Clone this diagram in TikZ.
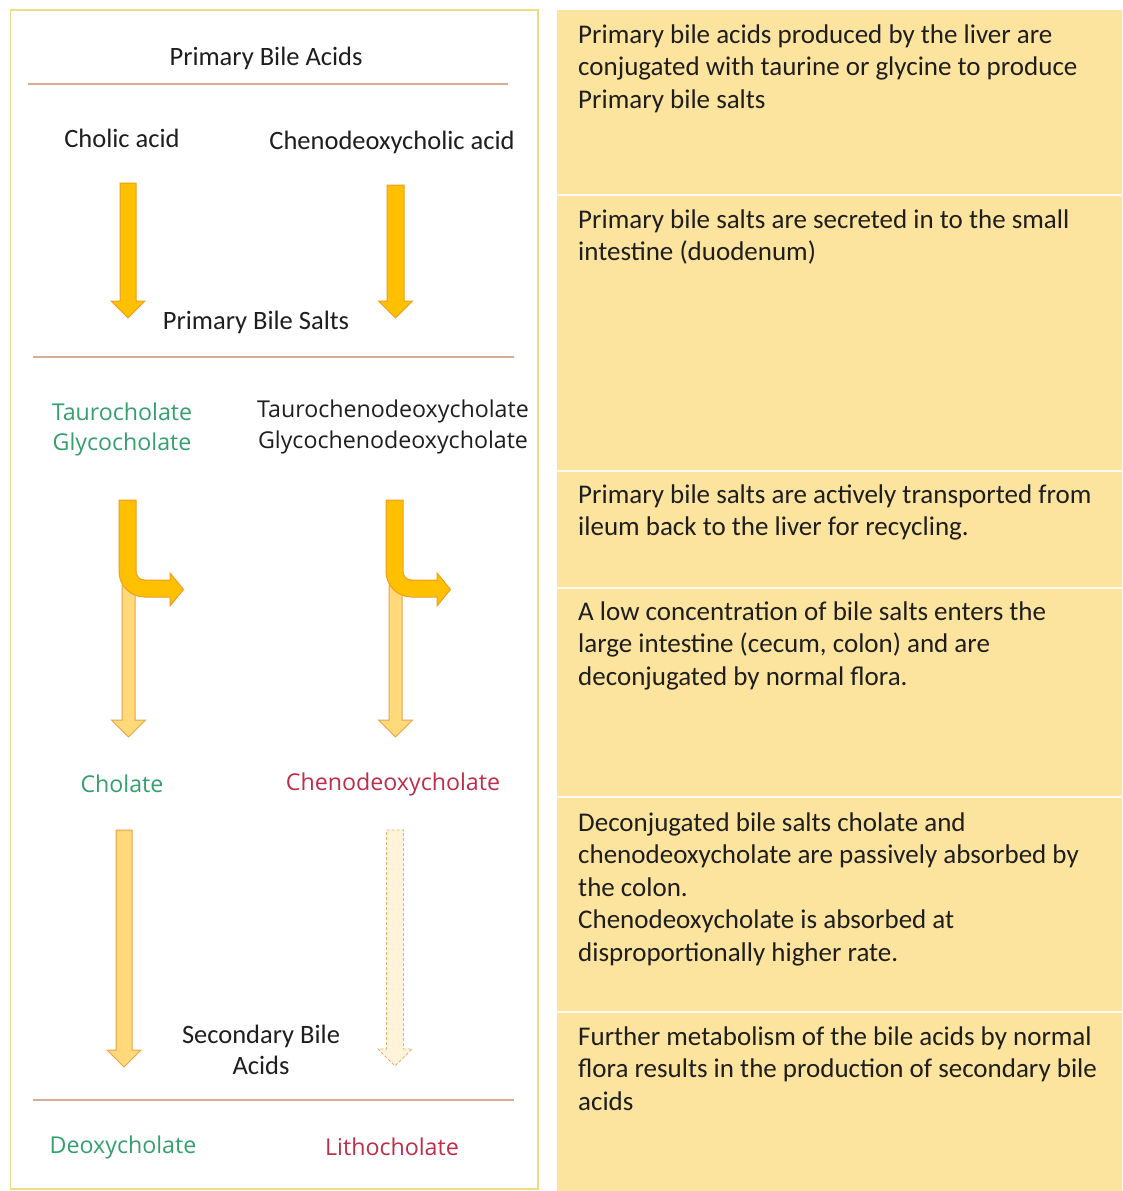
\documentclass[tikz,border=0pt]{standalone}
\usepackage{fontspec}
\setmainfont{Carlito}
\newfontfamily\segoe{Open Sans}
\definecolor{panel}{HTML}{FDE49E}
\definecolor{framec}{HTML}{EEDD88}
\definecolor{rulec}{HTML}{D8AE92}
\definecolor{darkfill}{HTML}{FFC000}
\definecolor{darkline}{HTML}{EE9E22}
\definecolor{lightfill}{HTML}{FFD97A}
\definecolor{lightline}{HTML}{E9A447}
\definecolor{palefill}{HTML}{FFF3DA}
\definecolor{paleline}{HTML}{E8AE70}
\definecolor{greent}{HTML}{35A06E}
\definecolor{redt}{HTML}{BE2E4A}
\definecolor{textc}{HTML}{1E1E1E}
\tikzset{
  desc/.style={anchor=north west, inner sep=0pt, align=left, text=textc,
    font=\fontsize{27}{32.5}\selectfont},
  lbl/.style={inner sep=0pt, text=textc, font=\fontsize{26.5}{31}\selectfont},
  slbl/.style={inner sep=0pt, font=\segoe\fontsize{23.2}{31}\selectfont},
  darkarrow/.style={fill=darkfill, draw=darkline, line width=1pt, line join=miter},
  lightarrow/.style={fill=lightfill, draw=lightline, line width=1pt},
  palearrow/.style={fill=palefill, draw=paleline, line width=0.9pt, dashed, dash pattern=on 3pt off 2pt},
  divider/.style={draw=white!85!panel, line width=2.5pt},
  hrule/.style={draw=rulec, line width=1.6pt}
}
% straight block arrow: #1 style, #2 centre x, #3 top y, #4 tip y, #5 shaft half-width
\newcommand\blockarrow[5]{%
  \draw[#1] (#2-#5,#3) -- (#2+#5,#3) -- (#2+#5,#4-17) -- (#2+17,#4-17) -- (#2,#4)
    -- (#2-17,#4-17) -- (#2-#5,#4-17) -- cycle;}
% bent arrow (dark part): #1 centre x
\newcommand\bentarrow[1]{%
  \draw[darkarrow] (#1-8.5,500) -- (#1-8.5,571.5)
    .. controls (#1-8.5,585.5) and (#1+3,597) .. (#1+17,597)
    -- (#1+42.5,597) -- (#1+42.5,606) -- (#1+56,589.5) -- (#1+42.5,573)
    -- (#1+42.5,580) -- (#1+17,580)
    .. controls (#1+12.3,580) and (#1+8.5,576.2) .. (#1+8.5,571.5)
    -- (#1+8.5,500) -- cycle;}
\begin{document}
\begin{tikzpicture}[x=1pt,y=-1pt]
\useasboundingbox (0,0) rectangle (1122,1191);
\fill[white] (0,0) rectangle (1122,1191);
% ---------- right panel ----------
\fill[panel] (557,10) rectangle (1122,1191);
\foreach \yy in {195,471,588,797,1012}
  \draw[divider] (557,\yy) -- (1122,\yy);
\node[desc] (d1) at (578,24.5) {Primary bile acids produced by the liver are\\conjugated with taurine or glycine to produce\\Primary bile salts};
\node[desc] (d2) at (578,209.5) {Primary bile salts are secreted in to the small\\intestine (duodenum)};
\node[desc] (d3) at (578,484.5) {Primary bile salts are actively transported from\\ileum back to the liver for recycling.};
\node[desc] (d4) at (578,601.5) {A low concentration of bile salts enters the\\large intestine (cecum, colon) and are\\deconjugated by normal flora.};
\node[desc] (d5) at (578,812.5) {Deconjugated bile salts cholate and\\chenodeoxycholate are passively absorbed by\\the colon.\\Chenodeoxycholate is absorbed at\\disproportionally higher rate.};
\node[desc] (d6) at (578,1026.5) {Further metabolism of the bile acids by normal\\flora results in the production of secondary bile\\acids};
% ---------- left panel ----------
\draw[framec, line width=1.5pt] (10.5,10) rectangle (538,1189);
\node[lbl] (pba) at (266,58) {Primary Bile Acids};
\draw[hrule] (28,84) -- (508,84);
\node[lbl] (ca) at (122,138) {Cholic acid};
\node[lbl] (cdca) at (392,142) {Chenodeoxycholic acid};
\blockarrow{darkarrow}{128}{183}{318}{8}
\blockarrow{darkarrow}{395.5}{185}{318}{8.5}
\node[lbl] (pbs) at (256,322) {Primary Bile Salts};
\draw[hrule] (33,357) -- (514,357);
\node[slbl, text=greent] (tc) at (122,412) {Taurocholate};
\node[slbl, text=greent] (gc) at (122,444) {Glycocholate};
\node[slbl, text=textc] (tcd) at (393,411) {Taurochenodeoxycholate};
\node[slbl, text=textc] (gcd) at (393,442) {Glycochenodeoxycholate};
% split arrows
\blockarrow{lightarrow}{128.5}{585}{737}{6.5}
\blockarrow{lightarrow}{395.5}{585}{737}{6.5}
\bentarrow{127.5}
\bentarrow{394.5}
\node[slbl, text=greent] (cho) at (122,784) {Cholate};
\node[slbl, text=redt] (cdc) at (393,784) {Chenodeoxycholate};
\blockarrow{lightarrow}{124}{830}{1067}{8}
\blockarrow{palearrow}{395}{830}{1066}{8.5}
\node[lbl, align=center, font=\fontsize{26.5}{31}\selectfont] (sba) at (261,1050) {Secondary Bile\\Acids};
\draw[hrule] (33,1100) -- (514,1100);
\node[slbl, text=greent] (dc) at (123,1147) {Deoxycholate};
\node[slbl, text=redt] (lc) at (392,1147) {Lithocholate};
\end{tikzpicture}
\end{document}
